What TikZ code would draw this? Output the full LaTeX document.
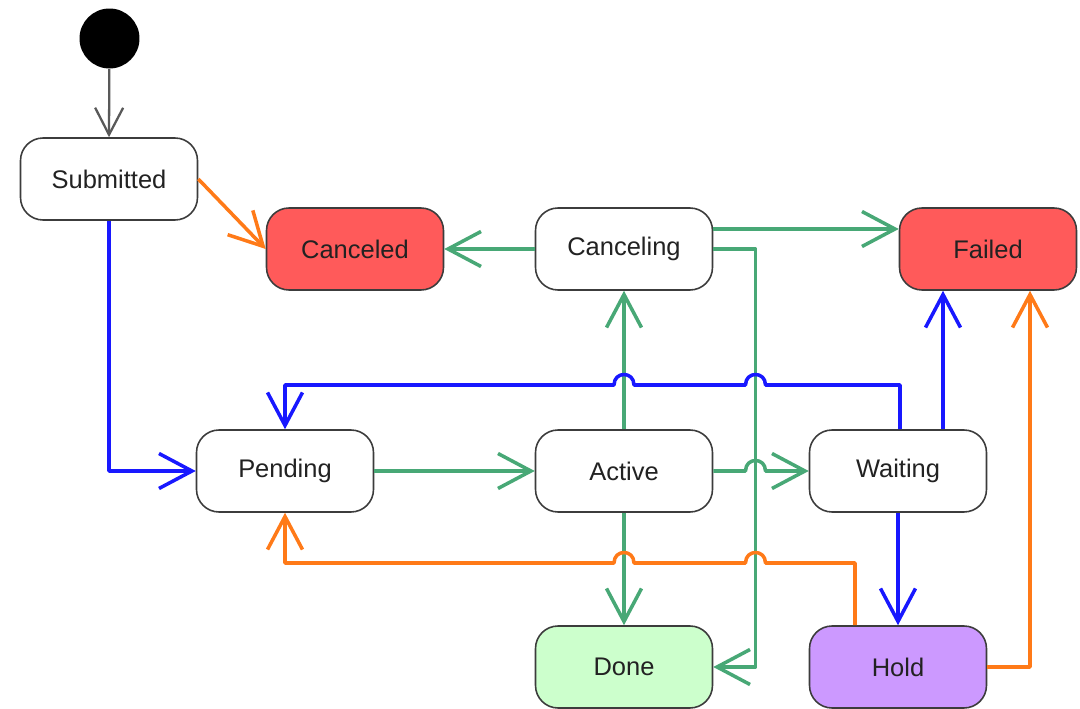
\documentclass[tikz,border=0pt]{standalone}
\usepackage{fontspec}
\setmainfont{Liberation Sans}
\usetikzlibrary{arrows.meta,calc}

\definecolor{edgegreen}{RGB}{72,168,118}
\definecolor{edgeblue}{RGB}{24,24,255}
\definecolor{edgeorange}{RGB}{255,122,24}
\definecolor{failred}{RGB}{255,90,90}
\definecolor{donegreen}{RGB}{204,255,204}
\definecolor{holdviolet}{RGB}{204,153,255}
\definecolor{boxline}{RGB}{60,60,60}
\definecolor{labeltext}{RGB}{34,34,34}

\begin{document}
\begin{tikzpicture}[x=0.02cm, y=-0.02cm,
  state/.style={draw=boxline, line width=0.9pt, rounded corners=0.45cm,
    minimum width=3.54cm, minimum height=1.64cm, inner sep=0pt,
    font=\fontsize{14.5pt}{17pt}\selectfont, text=labeltext, fill=white},
  startdot/.style={circle, fill=black, minimum size=1.2cm, inner sep=0pt},
  vee/.style={-{Straight Barb[length=0.66cm, width=0.7cm]}},
  smallvee/.style={-{Straight Barb[length=0.54cm, width=0.56cm]}},
  flow/.style={line width=2pt, line join=round, vee},
  green flow/.style={flow, draw=edgegreen},
  blue flow/.style={flow, draw=edgeblue},
  orange flow/.style={flow, draw=edgeorange}]

\useasboundingbox (0,0) rectangle (1080,709);
\fill[white] (0,0) rectangle (1080,709);

% states
\node[startdot] (init) at (109.5,38.5) {};
\node[state] (sub) at (109,179) {Submitted};
\node[state, fill=failred] (canceled) at (355,249) {Canceled};
\node[state] (canceling) at (624,249) {Canceling};
\node[state, fill=failred] (failed) at (988,249) {Failed};
\node[state] (pending) at (285,471) {Pending};
\node[state] (active) at (624,471) {Active};
\node[state] (waiting) at (898,471) {Waiting};
\node[state, fill=donegreen] (done) at (624,667) {Done};
\node[state, fill=holdviolet] (hold) at (898,667) {Hold};

% initial transition
\draw[smallvee, draw=black!65, line width=1.3pt] (init) -- (sub.north);

% transitions out of Submitted
\draw[orange flow] (sub.east) -- (canceled.west);
\draw[blue flow] (sub.south) |- (pending.west);

% transitions out of Canceling
\draw[green flow] (canceling.west) -- (canceled.east);
\draw[green flow] ($(canceling.east)+(0,-20)$) coordinate (cf) -- (cf -| failed.west);
\draw[green flow] (canceling.east) -- (755.5,249) |- (done.east);

% main line
\draw[green flow] (pending.east) -- (active.west);
\draw[green flow] (active.north) -- (canceling.south);
\draw[green flow] (active.south) -- (done.north);
\draw[green flow] (active.east) -- (745.5,471)
  .. controls (745.5,457) and (765.5,457) .. (765.5,471) -- (waiting.west);

% transitions out of Waiting
\draw[blue flow] ($(waiting.north)+(2,0)$) -- (900,385) -- (765.5,385)
  .. controls (765.5,371) and (745.5,371) .. (745.5,385) -- (634,385)
  .. controls (634,371) and (614,371) .. (614,385) -- (285,385) -- (pending.north);
\draw[blue flow] ($(waiting.north)+(45,0)$) -- ($(failed.south)+(-45,0)$);
\draw[blue flow] (waiting.south) -- (hold.north);

% transitions out of Hold
\draw[orange flow] ($(hold.north)+(-43,0)$) -- (855,563) -- (765.5,563)
  .. controls (765.5,549) and (745.5,549) .. (745.5,563) -- (634,563)
  .. controls (634,549) and (614,549) .. (614,563) -- (285,563) -- (pending.south);
\draw[orange flow] (hold.east) -| ($(failed.south)+(42,0)$);

\end{tikzpicture}
\end{document}
